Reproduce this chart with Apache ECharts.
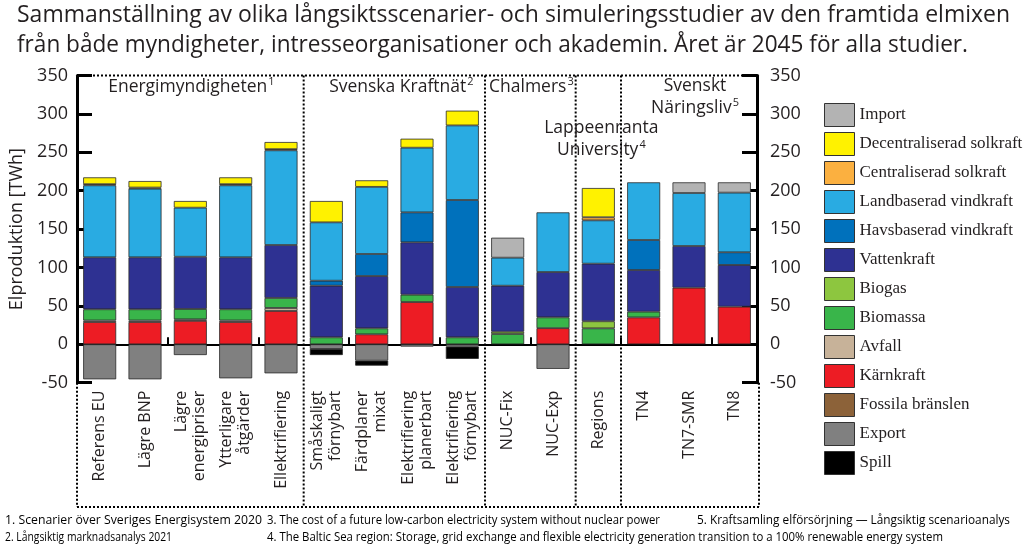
<!DOCTYPE html>
<html><head><meta charset="utf-8">
<script src="https://cdn.jsdelivr.net/npm/echarts@6/dist/echarts.min.js"></script>
<style>html,body{margin:0;padding:0;background:#fff}#c{width:1024px;height:549px}</style>
</head><body><div id="c"></div>
<script>
// ---------- DATA ----------
const categories = ['Referens EU','Lägre BNP','Lägre\nenergipriser','Ytterligare\nåtgärder','Ellektrifiering',
  'Småskaligt\nförnybart','Färdplaner\nmixat','Elektrifiering\nplanerbart','Elektrifiering\nförnybart',
  'NUC-Fix','NUC-Exp','Regions','TN4','TN7-SMR','TN8'];
const yTicks = {min: -50, max: 350, step: 50};
const karnkraft       = [29, 29, 30.5, 29, 43.4,  0, 13, 55, 0,    0, 21, 0,    35, 73.7, 49];
const fossila         = [0, 0, 0, 0, 0,  0, 0, 0, 0,  0, 0, 0,  0, 0, 0];
const avfall          = [2, 2, 2, 2, 3.9,  0, 0, 0, 0,  0, 0, 0,  0, 0, 0];
const biomassa        = [14.6, 14.6, 13.5, 14.6, 13,  9.1, 7.8, 9.6, 9.1,  13.4, 14.1, 20.8,  7.5, 0, 0];
const biogas          = [0, 0, 0, 0, 0,  0, 0, 0, 0,  3, 0, 9.2,  0, 0, 0];
const vattenkraft     = [67.7, 67.7, 68, 67.7, 69,  67.2, 68.1, 68.2, 65.5,  59.9, 59, 75,  54.2, 54.3, 54.3];
const havsbaserad     = [0, 0, 0, 0, 0,  6.5, 28.7, 39, 113.3,  0, 0, 0,  39.1, 0, 16.5];
const landbaserad     = [93.7, 89.3, 63.9, 93.7, 123.3,  76, 87.4, 84.2, 97.1,  36.5, 77.7, 56.4,  75.1, 69, 77.7];
const centraliserad   = [1.5, 1.5, 0, 1.5, 1.5,  0, 0, 0, 0,  0, 0, 4,  0, 0, 0];
const decentraliserad = [8.9, 8.5, 8.7, 8.9, 9.3,  27.8, 8.5, 11.7, 19.2,  0, 0, 38.1,  0, 0, 0];
const importData      = [0, 0, 0, 0, 0,  0, 0, 0, 0,  26, 0, 0,  0, 13.9, 13.4];
const exportData      = [-45.6, -45.6, -14, -44.3, -37.8,  -6, -21.3, -3, -3,  0, -32, 0,  0, 0, 0];
const spill           = [0, 0, 0, 0, 0,  -8, -6.5, 0, -16,  0, 0, 0,  0, 0, 0];

const groupBoundaries = [5, 9, 11, 12];   // category index where a new study group starts
const legendOrder = ['Import','Decentraliserad solkraft','Centraliserad solkraft','Landbaserad vindkraft',
  'Havsbaserad vindkraft','Vattenkraft','Biogas','Biomassa','Avfall','Kärnkraft','Fossila bränslen','Export','Spill'];

// stacking order bottom -> top
const seriesDefs = [
  ['Kärnkraft', karnkraft, '#ED1C24'],
  ['Fossila bränslen', fossila, '#8C6239'],
  ['Avfall', avfall, '#C7B299'],
  ['Biomassa', biomassa, '#39B54A'],
  ['Biogas', biogas, '#8DC63F'],
  ['Vattenkraft', vattenkraft, '#2E3192'],
  ['Havsbaserad vindkraft', havsbaserad, '#0071BC'],
  ['Landbaserad vindkraft', landbaserad, '#29ABE2'],
  ['Centraliserad solkraft', centraliserad, '#FBB040'],
  ['Decentraliserad solkraft', decentraliserad, '#FFF200'],
  ['Import', importData, '#B3B3B3'],
  ['Export', exportData, '#808080'],
  ['Spill', spill, '#000000']
];

const FONT = '"Open Sans", "Noto Sans", sans-serif';
const INK = '#231f20';

const chart = echarts.init(document.getElementById('c'), null, {renderer: 'canvas'});

const series = seriesDefs.map(([name, arr, color]) => ({
  name, type: 'bar', stack: 'mix', barWidth: 33, xAxisIndex: 0, yAxisIndex: 0,
  data: arr.map(v => v === 0 ? '-' : v),
  itemStyle: {color, borderColor: '#2a2a2a', borderWidth: 0.8},
  emphasis: {disabled: true}, animation: false
}));

const yAxisCommon = {
  type: 'value', min: yTicks.min, max: yTicks.max, interval: yTicks.step,
  axisLine: {show: true, lineStyle: {color: '#000', width: 3}},
  axisTick: {show: true, inside: true, length: 15, lineStyle: {color: '#000', width: 3}},
  splitLine: {show: false},
  axisLabel: {fontSize: 18, color: INK, fontFamily: FONT}
};

chart.setOption({
  animation: false,
  grid: {left: 77, right: 267, top: 75.5, bottom: 166.3, containLabel: false},
  legend: {
    data: legendOrder, orient: 'vertical', left: 819, top: 98,
    itemWidth: 30, itemHeight: 23, itemGap: 5, selectedMode: false, icon: 'rect',
    itemStyle: {borderColor: '#333', borderWidth: 1},
    textStyle: {fontFamily: '"Liberation Serif", "Times New Roman", serif', fontSize: 17, color: INK, lineHeight: 20}
  },
  xAxis: [
    {type: 'category', data: categories, position: 'bottom',
     axisLine: {show: false, onZero: false}, axisTick: {show: false},
     axisLabel: {interval: 0, rotate: 90, fontSize: 16, lineHeight: 18, color: INK, fontFamily: FONT, margin: 8}},
    {type: 'category', data: categories, position: 'bottom',
     axisLine: {show: true, onZero: true, lineStyle: {color: '#000', width: 2}},
     axisTick: {show: true, inside: true, length: 7, lineStyle: {color: '#000', width: 2}},
     axisLabel: {show: false}}
  ],
  yAxis: [
    Object.assign({}, yAxisCommon, {position: 'left',
      name: 'Elproduktion [TWh]', nameLocation: 'middle', nameGap: 46,
      nameTextStyle: {fontSize: 18, color: INK, fontFamily: FONT},
      axisLabel: Object.assign({}, yAxisCommon.axisLabel, {margin: 9})}),
    Object.assign({}, yAxisCommon, {position: 'right',
      axisLabel: Object.assign({}, yAxisCommon.axisLabel, {margin: 13})})
  ],
  series
});

// ---------- decorations (dotted group boxes, texts) ----------
const ctx = document.createElement('canvas').getContext('2d');
function measure(text, font) { ctx.font = font; return ctx.measureText(text).width; }

const xc = i => chart.convertToPixel({xAxisIndex: 0}, i);
const band = xc(1) - xc(0);
const xb = i => xc(0) - band / 2 + i * band;          // boundary before category i
const yv = v => chart.convertToPixel({yAxisIndex: 0}, v);
const yTop = yv(yTicks.max), yBottomAxis = yv(yTicks.min);
const xLeft = xb(0), xRight = xb(categories.length);
const boxBottom = 507;
const dot = {stroke: '#000', lineWidth: 2, lineDash: [2, 2]};

const graphics = [];
function line(x1, y1, x2, y2) {
  graphics.push({type: 'line', silent: true, z: 10, shape: {x1, y1, x2, y2}, style: Object.assign({}, dot)});
}
line(xLeft, yTop, xRight, yTop);
line(xLeft, boxBottom, xRight + 2, boxBottom);
line(xLeft, yBottomAxis, xLeft, boxBottom);
line(xRight + 2, yBottomAxis, xRight + 2, boxBottom);
groupBoundaries.forEach(b => line(xb(b), yTop, xb(b), boxBottom));

// group labels
const gl = (text, x, y) => graphics.push({type: 'text', silent: true, z: 11, x, y, style: {
  text, align: 'center', verticalAlign: 'middle', fill: INK,
  rich: {a: {fontSize: 17.5, fontFamily: FONT, lineHeight: 22, fill: INK},
         s: {fontSize: 11, fontFamily: FONT, lineHeight: 22, verticalAlign: 'top', padding: [0,0,0,1], fill: INK}}
}});
gl('{a|Energimyndigheten}{s|1}', (xb(0) + xb(5)) / 2 + 1, 87);
gl('{a|Svenska Kraftnät}{s|2}', (xb(5) + xb(9)) / 2 + 7, 87);
gl('{a|Chalmers}{s|3}', (xb(9) + xb(11)) / 2 + 1, 87);
gl('{a|Lappeenranta}\n{a|University}{s|4}', xc(11) + 3, 139);
gl('{a|Svenskt}\n{a|Näringsliv}{s|5}', xc(13) + 6, 97);

// title (each line fitted to its width in the reference)
const titleFont = '24px "Open Sans"';
[['Sammanställning av olika långsiktsscenarier- och simuleringsstudier av den framtida elmixen', 15, 993],
 ['från både myndigheter, intresseorganisationer och akademin. Året är 2045 för alla studier.', 45, 951]]
 .forEach(([text, y, w]) => graphics.push({type: 'text', silent: true, x: 17, y, scaleX: w / measure(text, titleFont),
  style: {text, font: titleFont, fill: INK, verticalAlign: 'middle'}}));

// footnotes
const fnFont = '12px "Open Sans"';
const fn = [
  ['1. Scenarier över Sveriges Energisystem 2020', 5, 521, 257],
  ['3. The cost of a future low-carbon electricity system without nuclear power', 267, 521, 393],
  ['5. Kraftsamling elförsörjning — Långsiktig scenarioanalys', 697, 521, 313],
  ['2. Långsiktig marknadsanalys 2021', 5, 538, 167],
  ['4. The Baltic Sea region: Storage, grid exchange and flexible electricity generation transition to a 100% renewable energy system', 267, 538, 676]
];
fn.forEach(([text, x, y, w]) => graphics.push({type: 'text', silent: true, x, y, scaleX: w / measure(text, fnFont),
  style: {text, font: fnFont, fill: '#000', verticalAlign: 'middle'}}));

chart.setOption({graphic: graphics});
</script></body></html>
